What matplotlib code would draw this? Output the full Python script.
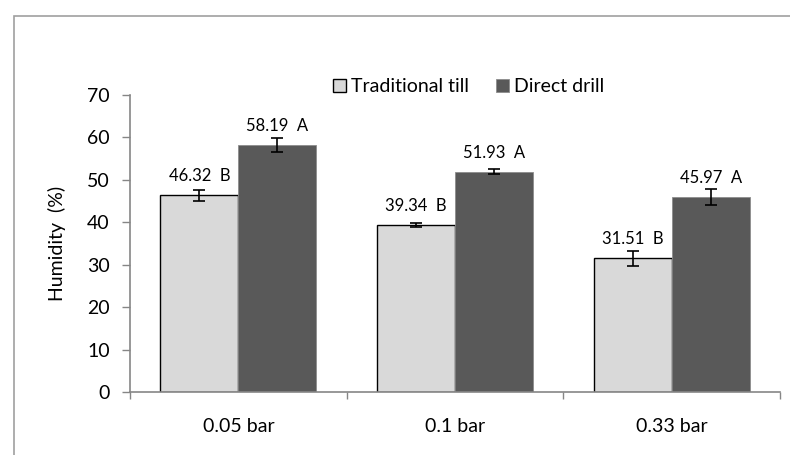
import numpy as np
import matplotlib
matplotlib.use('Agg')
import matplotlib.pyplot as plt
from matplotlib.patches import Rectangle

categories = ['0.05 bar', '0.1 bar', '0.33 bar']
traditional = [46.32, 39.34, 31.51]
direct = [58.19, 51.93, 45.97]
traditional_err = [1.4, 0.4, 1.8]
direct_err = [1.6, 0.6, 1.8]
traditional_letters = ['B', 'B', 'B']
direct_letters = ['A', 'A', 'A']

plt.rcParams['font.family'] = ['Lato', 'DejaVu Sans']

fig = plt.figure(figsize=(7.9, 4.55), dpi=100)
ax = fig.add_axes([0.1646, 0.1385, 0.8227, 0.6527])

# outer chart border (cut off at right and bottom like the reference)
fig.patches.append(Rectangle((14 / 790, -0.1), 1.0, 1 - 16 / 455 + 0.1,
                             transform=fig.transFigure, fill=False,
                             edgecolor='#a0a0a0', linewidth=1.2))

x = np.arange(len(categories))
w = 0.36
light = '#d9d9d9'
dark = '#595959'

ax.bar(x - w / 2, traditional, width=w, color=light, edgecolor='black',
       linewidth=1.0, label='Traditional till', zorder=2)
ax.bar(x + w / 2, direct, width=w, color=dark, edgecolor='#8c8c8c',
       linewidth=0.6, label='Direct drill', zorder=2)
ax.errorbar(x - w / 2, traditional, yerr=traditional_err, fmt='none',
            ecolor='black', elinewidth=1.2, capsize=4, capthick=1.2, zorder=3)
ax.errorbar(x + w / 2, direct, yerr=direct_err, fmt='none',
            ecolor='black', elinewidth=1.2, capsize=4, capthick=1.2, zorder=3)

for i in range(len(categories)):
    ax.annotate('%.2f  %s' % (traditional[i], traditional_letters[i]),
                (x[i] - w / 2, traditional[i]), xytext=(0, 13.7),
                textcoords='offset points', ha='center', va='center',
                fontsize=12)
    ax.annotate('%.2f  %s' % (direct[i], direct_letters[i]),
                (x[i] + w / 2, direct[i]), xytext=(0, 13.7),
                textcoords='offset points', ha='center', va='center',
                fontsize=12)

ax.set_xlim(-0.5, len(categories) - 0.5)
ax.set_ylim(0, 70)
ax.set_yticks(range(0, 71, 10))
ax.set_xticks(x)
ax.set_xticklabels(categories, fontsize=14)
ax.tick_params(axis='x', length=0, pad=19)
ax.set_xticks(np.arange(-0.5, len(categories), 1), minor=True)
ax.tick_params(axis='x', which='minor', length=5, color='#868686', width=1)
ax.tick_params(axis='y', labelsize=14, length=5.5, color='#868686', width=1, pad=9)
ax.set_ylabel('Humidity  (%)', fontsize=14, labelpad=15)

for side in ['top', 'right']:
    ax.spines[side].set_visible(False)
for side in ['left', 'bottom']:
    ax.spines[side].set_color('#868686')
    ax.spines[side].set_linewidth(1.2)

ax.legend(loc='center', bbox_to_anchor=(0.521, 1.027), ncol=2, frameon=False,
          fontsize=14, handlelength=0.67, handleheight=0.67, handletextpad=0.26,
          columnspacing=1.4, borderaxespad=0)

fig.savefig('out.png', dpi=100)
